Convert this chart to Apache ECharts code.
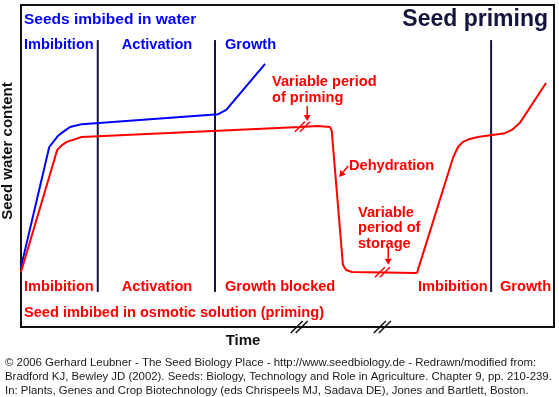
<!DOCTYPE html>
<html>
<head>
<meta charset="utf-8">
<script src="https://cdn.jsdelivr.net/npm/echarts@6/dist/echarts.min.js"></script>
<style>
  html, body { margin: 0; padding: 0; background: #fff; }
  #chart { width: 559px; height: 397px; }
</style>
</head>
<body>
<div id="chart"></div>
<script>
// time and seed water content in arbitrary units (0-100)
const waterTime = [0, 5.3, 6.9, 7.9, 9.2, 11.4, 37.0, 38.5, 45.8];
const waterContent = [18.6, 55.9, 59.3, 60.6, 62.1, 63.0, 66.1, 67.4, 81.7];

const primingTime = [0, 6.8, 7.7, 8.6, 11.4, 52.3, 55.7, 58.0, 58.3, 60.4, 61.0, 62.1, 74.3, 81.1, 82.0, 82.9, 84.2, 85.7, 88.4, 90.8, 92.1, 93.6, 98.5];
const primingContent = [17.1, 55.0, 56.5, 57.5, 59.0, 62.1, 62.4, 62.1, 60.9, 19.3, 17.7, 17.1, 16.8, 52.8, 55.9, 57.5, 58.4, 59.0, 59.6, 60.2, 61.2, 63.4, 75.8];

// phase boundaries (time) and how far up they reach
const phaseBounds = [14.4, 36.4, 88.2];
const phaseTop = 89.1;
const phaseBottom = 10.9;

// "//" breaks on the priming curve and on the time axis
const curveBreaks = [[52.8, 62.2], [67.8, 17.0]];
const axisBreaks = [52.2, 67.8];

// annotation arrows: [fromTime, fromWater, toTime, toWater]
const arrows = [
  [53.7, 68.6, 53.7, 64.0],
  [61.4, 50.0, 59.7, 46.6],
  [68.9, 24.5, 68.9, 19.3]
];

const RED = "#ff0000";
const BLUE = "#0000ff";
const NAVY = "#14143c";
const bold = (s) => "bold " + s + "px 'Liberation Sans', Arial, sans-serif";

const chart = echarts.init(document.getElementById("chart"));

function label(text, x, y, fill, size, align) {
  return {
    type: "text",
    x: x,
    y: y,
    style: {
      text: text,
      fill: fill,
      font: bold(size),
      align: align || "left",
      verticalAlign: "middle",
      lineHeight: 15.5
    }
  };
}

chart.setOption({
  animation: false,
  grid: {
    left: 21,
    right: 5,
    top: 5,
    bottom: 70,
    show: true,
    borderColor: "#111",
    borderWidth: 2,
    backgroundColor: "transparent"
  },
  xAxis: {
    type: "value",
    min: 0,
    max: 100,
    axisLine: { show: false },
    axisTick: { show: false },
    axisLabel: { show: false },
    splitLine: { show: false }
  },
  yAxis: {
    type: "value",
    min: 0,
    max: 100,
    axisLine: { show: false },
    axisTick: { show: false },
    axisLabel: { show: false },
    splitLine: { show: false }
  },
  series: [
    {
      // phase dividers
      type: "custom",
      silent: true,
      data: phaseBounds,
      renderItem(params, api) {
        const t = api.value(0);
        const a = api.coord([t, phaseTop]);
        const b = api.coord([t, phaseBottom]);
        return {
          type: "line",
          shape: { x1: a[0], y1: a[1], x2: b[0], y2: b[1] },
          style: { stroke: NAVY, lineWidth: 2 }
        };
      }
    },
    {
      name: "Seeds imbibed in water",
      type: "line",
      data: waterTime.map((t, i) => [t, waterContent[i]]),
      showSymbol: false,
      lineStyle: { color: BLUE, width: 2 }
    },
    {
      name: "Seed imbibed in osmotic solution (priming)",
      type: "line",
      data: primingTime.map((t, i) => [t, primingContent[i]]),
      showSymbol: false,
      lineStyle: { color: RED, width: 2 }
    },
    {
      // break marks on the red curve
      type: "custom",
      silent: true,
      data: curveBreaks,
      renderItem(params, api) {
        const p = api.coord([api.value(0), api.value(1)]);
        return {
          type: "group",
          children: [-2.5, 2.5].map((d) => ({
            type: "line",
            shape: { x1: p[0] + d - 5, y1: p[1] + 5, x2: p[0] + d + 5, y2: p[1] - 5 },
            style: { stroke: RED, lineWidth: 1.5 }
          }))
        };
      }
    },
    {
      // break marks on the time axis
      type: "custom",
      silent: true,
      data: axisBreaks.map((t) => [t, 0]),
      renderItem(params, api) {
        const p = api.coord([api.value(0), 0]);
        return {
          type: "group",
          children: [-2.5, 2.5].map((d) => ({
            type: "line",
            shape: { x1: p[0] + d - 6, y1: p[1] + 6, x2: p[0] + d + 6, y2: p[1] - 6 },
            style: { stroke: "#111", lineWidth: 1.5 }
          }))
        };
      }
    },
    {
      // arrows
      type: "custom",
      silent: true,
      data: arrows,
      renderItem(params, api) {
        const a = api.coord([api.value(0), api.value(1)]);
        const b = api.coord([api.value(2), api.value(3)]);
        const ang = Math.atan2(b[1] - a[1], b[0] - a[0]);
        const len = 6, half = 3.5;
        const bx = b[0] - len * Math.cos(ang), by = b[1] - len * Math.sin(ang);
        const nx = -Math.sin(ang) * half, ny = Math.cos(ang) * half;
        return {
          type: "group",
          children: [
            {
              type: "line",
              shape: { x1: a[0], y1: a[1], x2: bx, y2: by },
              style: { stroke: RED, lineWidth: 1.5 }
            },
            {
              type: "polygon",
              shape: { points: [[b[0], b[1]], [bx + nx, by + ny], [bx - nx, by - ny]] },
              style: { fill: RED }
            }
          ]
        };
      }
    }
  ],
  graphic: [
    label("Seeds imbibed in water", 24, 20, BLUE, 15.5),
    label("Seed priming", 548, 20, NAVY, 23, "right"),
    label("Imbibition", 24, 45, BLUE, 14.6),
    label("Activation", 157, 45, BLUE, 14.6, "center"),
    label("Growth", 225, 45, BLUE, 14.6),
    label("Imbibition", 24, 287, RED, 14.6),
    label("Activation", 157, 287, RED, 14.6, "center"),
    label("Growth blocked", 225, 287, RED, 14.6),
    label("Imbibition", 418, 287, RED, 14.6),
    label("Growth", 500, 287, RED, 14.6),
    label("Seed imbibed in osmotic solution (priming)", 24, 313, RED, 14.6),
    label("Variable period\nof priming", 272, 90, RED, 14.6),
    label("Dehydration", 349, 166, RED, 14.6),
    label("Variable\nperiod of\nstorage", 358, 228, RED, 14.6),
    label("Time", 243, 341, "#111", 15, "center"),
    {
      type: "text",
      x: 8,
      y: 151,
      rotation: Math.PI / 2,
      style: {
        text: "Seed water content",
        fill: "#111",
        font: bold(15),
        align: "center",
        verticalAlign: "middle"
      }
    },
    {
      type: "text",
      x: 5,
      y: 377,
      style: {
        text: "© 2006 Gerhard Leubner - The Seed Biology Place - http://www.seedbiology.de - Redrawn/modified from:\n" +
          "Bradford KJ, Bewley JD (2002). Seeds: Biology, Technology and Role in Agriculture. Chapter 9, pp. 210-239.\n" +
          "In: Plants, Genes and Crop Biotechnology (eds Chrispeels MJ, Sadava DE), Jones and Bartlett, Boston.",
        fill: "#1a1a1a",
        font: "11.4px 'Liberation Sans', Arial, sans-serif",
        align: "left",
        verticalAlign: "middle",
        lineHeight: 14
      }
    }
  ]
});
</script>
</body>
</html>
